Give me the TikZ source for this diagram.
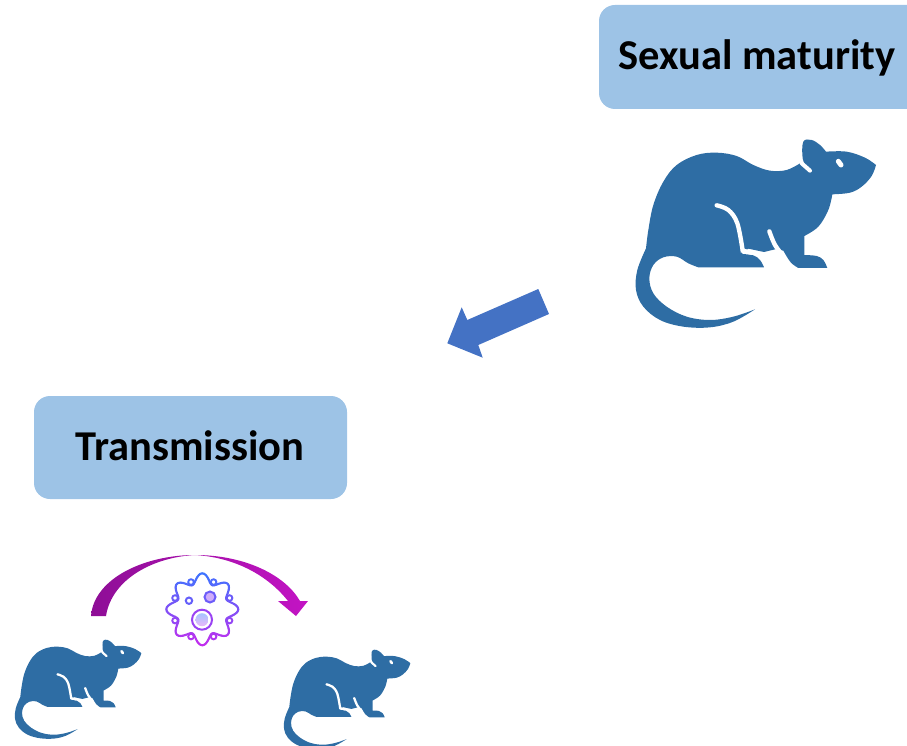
\documentclass[tikz,border=0pt]{standalone}
\usepackage{fontspec}
\setmainfont{Carlito}
\definecolor{boxblue}{HTML}{9DC3E6}
\definecolor{ratblue}{HTML}{2E6DA4}
\definecolor{arrowblue}{HTML}{4472C4}
\definecolor{virA}{HTML}{3D74FF}
\definecolor{virB}{HTML}{C22EEE}
\definecolor{curveA}{HTML}{8E0E96}
\definecolor{curveB}{HTML}{C314C4}
\tikzset{
  labelbox/.style={fill=boxblue,rounded corners=16pt},
  labeltext/.style={text=black,font=\bfseries\fontsize{42.5}{50}\selectfont,inner sep=0pt,anchor=center},
  ratcut/.style={draw=white,line cap=round,fill=none},
}
\newcommand{\ratdraw}[3]{%
\begin{scope}[shift={(#1,#2)},x=#3pt,y=-#3pt]
\fill[ratblue] (78,355) -- plot[smooth,tension=.6] coordinates {(78,355) (85,300) (100,225) (130,155) (170,105) (230,75) (290,68) (350,78) (400,105) (450,122) (500,120) (540,100)}
 -- (562,118) -- plot[smooth,tension=.6] coordinates {(562,118) (548,85) (550,35) (575,30) (600,45) (618,65)}
 -- plot[smooth,tension=.6] coordinates {(618,65) (680,65) (735,83) (768,105)}
 -- plot[smooth,tension=.6] coordinates {(768,105) (755,138) (725,170) (690,188) (637,193)}
 -- plot[smooth,tension=.6] coordinates {(637,193) (625,240) (595,290) (553,318)}
 -- (553,375) -- plot[smooth,tension=.6] coordinates {(553,375) (590,378) (610,390) (622,414)}
 -- (535,414) -- plot[smooth,tension=.6] coordinates {(535,414) (512,397) (490,362)}
 -- (465,358) -- (432,366) -- (385,356) -- (365,372)
 -- plot[smooth,tension=.6] coordinates {(365,372) (400,376) (420,390) (432,412)}
 -- (235,412) -- plot[smooth,tension=.6] coordinates {(235,412) (205,400) (170,380) (130,382) (100,405) (88,445) (100,490) (140,530) (200,560) (270,570) (340,560) (405,538)}
 -- plot[smooth,tension=.6] coordinates {(405,538) (340,575) (270,592) (190,590) (120,570) (70,530) (48,480) (52,420) (78,355)} -- cycle;
\draw[ratcut,line width=#3*13pt] plot[smooth,tension=.6] coordinates {(290,226) (325,240) (352,280) (368,362)} -- (395,368);
\draw[ratcut,line width=#3*13pt] plot[smooth,tension=.6] coordinates {(448,304) (465,345) (490,378)};
\draw[ratcut,line width=#3*12pt] (545,100) -- (570,122);
\draw[ratcut,line width=#3*15pt] (655,94) -- (663,105);
\end{scope}}
\begin{document}
\begin{tikzpicture}[x=1pt,y=-1pt]
\path[use as bounding box] (0,0) rectangle (907,746);
\clip (0,0) rectangle (907,746);

\path[labelbox] (599,5) rectangle (925,109);
\path[labelbox] (34,396) rectangle (347,499);
\node[labeltext] (maturity) at (757,58) {Sexual maturity};
\node[labeltext] (transmission) at (190,446) {Transmission};

\ratdraw{620}{130}{0.33333}
\ratdraw{6.6}{634.7}{0.17544}
\ratdraw{275.6}{644.7}{0.17544}

% block arrow
\fill[arrowblue] (538.3,289) -- (549,314) -- (478.3,345) -- (482.7,357.7) -- (447.3,343.3) -- (461.7,307.3) -- (467.3,320) -- cycle;

% curved arrow
\shade[left color=curveA,right color=curveB]
  (91,616) .. controls (94,578) and (145,555) .. (195,555)
  .. controls (245,555) and (285,575) .. (300,601)
  -- (308,601) -- (296,616) -- (278,601) -- (288,601)
  .. controls (265,572) and (230,557) .. (195,555)
  .. controls (155,557) and (112,578) .. (106,616) -- cycle;

% virus
\begin{scope}[shift={(202.3,609.3)}]
\foreach \a in {22.5,67.5,...,337.5}{
  \pgfmathsetmacro{\mix}{max(0,min(100,50-1.4*(29*sin(\a))))}
  \colorlet{vc}{virA!\mix!virB}
  \draw[vc,line width=1.9pt] (\a:29.5) circle (2.8);
}
\foreach \a in {0,3,...,357}{
  \pgfmathsetmacro{\b}{\a+3}
  \pgfmathsetmacro{\ra}{31+5*cos(8*\a)}
  \pgfmathsetmacro{\rb}{31+5*cos(8*\b)}
  \pgfmathsetmacro{\mix}{max(0,min(100,50-1.4*(\ra*sin(\a))))}
  \colorlet{vc}{virA!\mix!virB}
  \draw[vc,line width=2.1pt,line cap=round] (\a:\ra) -- (\b:\rb);
}
\end{scope}
\draw[virA!70!virB,line width=2pt] (189,600.7) circle (3.2);
\draw[virA!65!virB,line width=2pt,fill=virA!35!virB!45!white] (210,597) circle (5.5);
\shade[top color=cyan!35!blue!35!white,bottom color=virB!35!white] (202,619.7) circle (6.5);
\draw[virA!30!virB,line width=2pt] (202,619.7) circle (10);
\end{tikzpicture}
\end{document}
